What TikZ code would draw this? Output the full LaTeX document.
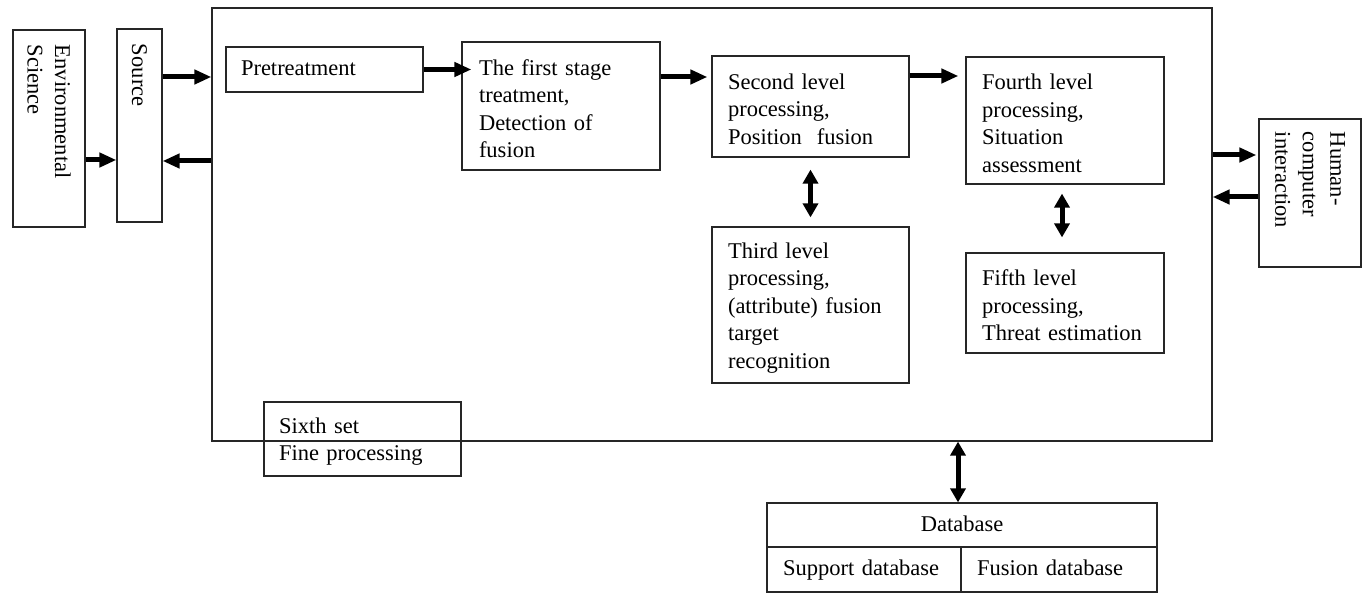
\documentclass[tikz,border=0pt]{standalone}
\usepackage{fontspec}
\setmainfont{Liberation Serif}
\usetikzlibrary{arrows.meta}
\begin{document}
\begin{tikzpicture}[x=1pt,y=-1pt,
  every node/.style={font=\fontsize{22.5}{27.5}\selectfont},
  box/.style={draw=black!85, line width=1.2pt, inner sep=0pt, align=left},
  ml/.style={box, execute at begin node={\rule{0pt}{21pt}}},
  vbox/.style={box, rotate=-90},
  one/.style={text height=17pt, text depth=5pt},
  arr/.style={line width=5pt, -{Triangle[length=17pt,width=14pt]}},
  darr/.style={line width=5pt, {Triangle[length=14pt,width=15pt]}-{Triangle[length=14pt,width=15pt]}}]
\useasboundingbox (0,0) rectangle (1366,593);
% main frame
\node[box, minimum width=1000pt, minimum height=433pt] (main) at (712,224.5) {};
% left boxes (rotated text)
\node[vbox, minimum width=197pt, minimum height=72pt, text width=167pt] (env) at (49,128.5) {Environmental\\Science};
\node[vbox, minimum width=193pt, minimum height=45pt, text width=163pt] (src) at (139.5,125.5) {Source};
\node[vbox, minimum width=148pt, minimum height=102pt, text width=122pt] (hci) at (1310,193) {Human-\\computer\\interaction};
% inner boxes
\node[box, one, minimum width=197pt, minimum height=45pt, text width=167pt] (pre) at (324.5,69.5) {Pretreatment};
\node[ml, minimum width=198pt, minimum height=128pt, text width=164pt] (first) at (561,106) {The first stage\\treatment,\\Detection of\\fusion};
\node[ml, minimum width=197pt, minimum height=101pt, text width=165pt] (second) at (810.5,106.5) {Second level\\processing,\\Position\ \ fusion};
\node[ml, minimum width=197pt, minimum height=156pt, text width=165pt] (third) at (810.5,305) {Third level\\processing,\\(attribute) fusion\\target\\recognition};
\node[ml, minimum width=198pt, minimum height=127pt, text width=166pt] (fourth) at (1065,120.5) {Fourth level\\processing,\\Situation\\assessment};
\node[ml, minimum width=198pt, minimum height=100pt, text width=166pt] (fifth) at (1065,303) {Fifth level\\processing,\\Threat estimation};
\node[ml, minimum width=197pt, minimum height=74pt, text width=167pt] (sixth) at (362.5,439) {Sixth set\\Fine processing};
% database
\node[box, one, minimum width=390pt, minimum height=44pt, align=center] (db) at (962,525) {Database};
\node[box, one, minimum width=194pt, minimum height=45pt, text width=162pt] (supp) at (864,569.5) {Support database};
\node[box, one, minimum width=196pt, minimum height=45pt, text width=164pt] (fus) at (1059,569.5) {Fusion database};
% arrows
\draw[arr] (env.north |- 0,160) -- (src.south |- 0,160);
\draw[arr] (src.north |- 0,77) -- (main.west |- 0,77);
\draw[arr] (main.west |- 0,161) -- (src.north |- 0,161);
\draw[arr, shorten >=-10pt] (pre.east) -- (first.west |- pre.east);
\draw[arr, shorten >=4pt] (first.east |- 0,77) -- (second.west |- 0,77);
\draw[arr, shorten >=7pt] (second.east |- 0,76) -- (fourth.west |- 0,76);
\draw[darr, shorten <=12pt, shorten >=9pt] (second.south) -- (third.north);
\draw[darr, shorten <=9pt, shorten >=15pt] (fourth.south -| 1062,0) -- (fifth.north -| 1062,0);
\draw[darr] (main.south -| 958,0) -- (db.north -| 958,0);
\draw[arr, shorten >=2pt] (main.east |- 0,155) -- (hci.south |- 0,155);
\draw[arr] (hci.south |- 0,197) -- (main.east |- 0,197);
\end{tikzpicture}
\end{document}
